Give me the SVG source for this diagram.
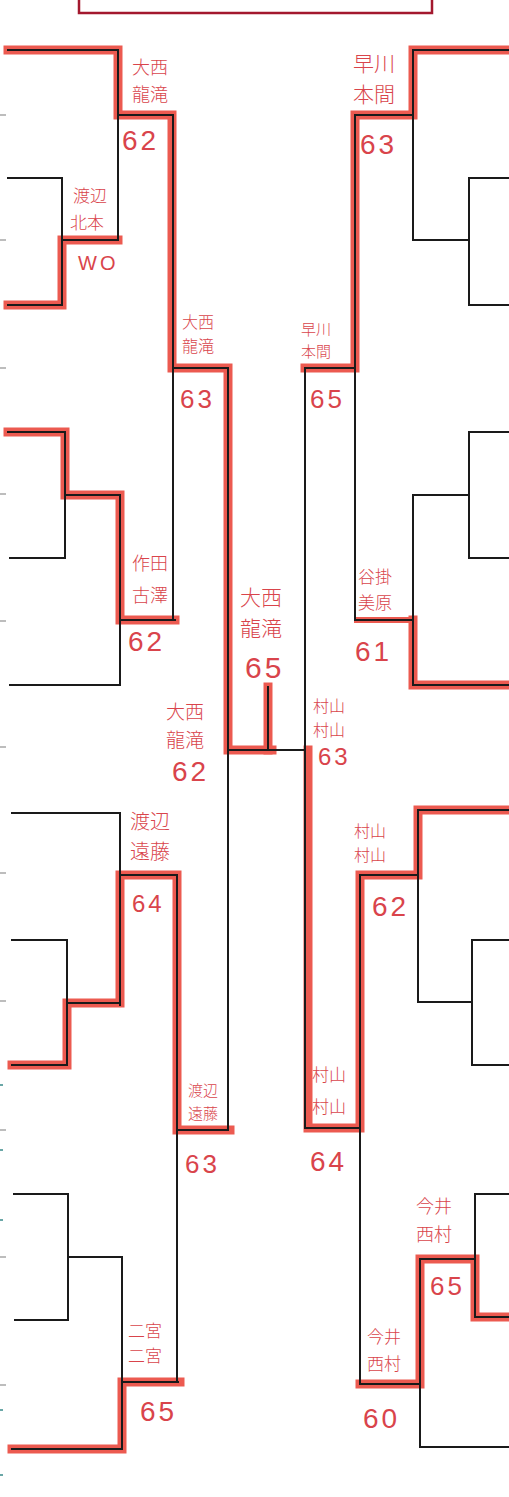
<svg xmlns="http://www.w3.org/2000/svg" width="509" height="1497" viewBox="0 0 509 1497">
<style>
.hl{fill:none;stroke:#ec5a50;stroke-width:9;stroke-linejoin:miter;stroke-linecap:square}
.hlt{fill:none;stroke:#ec5a50;stroke-width:6;stroke-linecap:square}
.ln{fill:none;stroke:#1a1a1a;stroke-width:2;stroke-linecap:square}
.tk{fill:none;stroke:#a8a8a8;stroke-width:1.5}
.tg{fill:none;stroke:#3a8a8a;stroke-width:1.5}
.nm{font-family:"Noto Sans CJK JP","Noto Sans CJK SC",sans-serif;fill:#d9444b;font-weight:300}
.sc{font-family:"Liberation Sans","DejaVu Sans",sans-serif;fill:#d9444b;letter-spacing:3px}
</style>
<rect x="79" y="-20" width="353" height="33" fill="none" stroke="#a3182e" stroke-width="2.5"/>
<g id="ticks">
<path class="tk" d="M0,115H6M0,240H6M0,368H6M0,494H6M0,621H6M0,747H6M0,873H6M0,1001H6M0,1130H6M0,1257H6M0,1385H6"/>
<path class="tg" d="M0,1085H3M0,1150H3M0,1220H3M0,1410H3M0,1475H3"/>
</g>
<g id="connectors">
<g id="highlights">
<path class="hl" d="M8,50H118V115H172V368H228V750H272"/>
<path class="hl" d="M268,750V687"/>
<path class="hl" d="M8,305H62V240H118"/>
<path class="hl" d="M8,432H65V495H120V620H175"/>
<path class="hl" d="M12,1065H67V1003H120V875H177V1130H230"/>
<path class="hl" d="M12,1449H122V1382H180"/>
<path class="hl" d="M509,50H413V115H355V368H305"/>
<path class="hlt" d="M357,620H413"/>
<path class="hl" d="M413,620V685H509"/>
<path class="hl" d="M509,810H418V875H360V1128H308V750"/>
<path class="hl" d="M509,1317H475V1259H420V1384H360"/>
</g>
<g id="lines">
<path class="ln" d="M8,50H118V240M118,115H172M8,178H62V305H8M62,240H118M173,115V620M173,368H228M8,432H65V558H10M65,495H120V685H10M120,620H175M228,368V1130M228,750H305M268,687V750M12,813H120V1005M120,875H177M12,940H67V1065H12M67,1003H120M177,875V1382M177,1130H228M14,1194H68V1320H15M68,1257H122V1449H12M122,1382H178"/>
<path class="ln" d="M509,50H413V240H469M355,115H413M509,178H469V305H509M355,115V620H413M305,368H355M413,495V685H509M413,495H469M509,432H469V558H509M305,368V1128H360M360,875V1384H420M360,875H418M509,810H418V1002H472M509,940H472V1065H509M420,1259V1447H509M420,1259H475M509,1194H475V1317H509"/>
</g>
</g>
<g id="m-l1"><text class="nm" font-size="18" x="132" y="74">大西</text><text class="nm" font-size="18" x="132" y="101">龍滝</text><text class="sc" font-size="28" x="122" y="150">62</text></g>
<g id="m-l2"><text class="nm" font-size="17" x="73" y="202">渡辺</text><text class="nm" font-size="17" x="70" y="229">北本</text><text class="sc" font-size="20" x="78" y="270">WO</text></g>
<g id="m-l3"><text class="nm" font-size="16" x="182" y="328">大西</text><text class="nm" font-size="16" x="182" y="352">龍滝</text><text class="sc" font-size="26" x="180" y="408">63</text></g>
<g id="m-l4"><text class="nm" font-size="18" x="132" y="570">作田</text><text class="nm" font-size="18" x="132" y="602">古澤</text><text class="sc" font-size="28" x="128" y="651">62</text></g>
<g id="m-l5"><text class="nm" font-size="20" x="130" y="829">渡辺</text><text class="nm" font-size="20" x="130" y="859">遠藤</text><text class="sc" font-size="24" x="132" y="912">64</text></g>
<g id="m-l6"><text class="nm" font-size="15" x="188" y="1096">渡辺</text><text class="nm" font-size="15" x="188" y="1119">遠藤</text><text class="sc" font-size="26" x="185" y="1173">63</text></g>
<g id="m-l7"><text class="nm" font-size="17" x="128" y="1337">二宮</text><text class="nm" font-size="17" x="128" y="1362">二宮</text><text class="sc" font-size="28" x="140" y="1421">65</text></g>
<g id="m-semi-l"><text class="nm" font-size="19" x="166" y="719">大西</text><text class="nm" font-size="19" x="166" y="747">龍滝</text><text class="sc" font-size="28" x="172" y="781">62</text></g>
<g id="m-final"><text class="nm" font-size="21" x="240" y="605">大西</text><text class="nm" font-size="21" x="240" y="636">龍滝</text><text class="sc" font-size="30" x="245" y="678">65</text></g>
<g id="m-semi-r"><text class="nm" font-size="16" x="313" y="712">村山</text><text class="nm" font-size="16" x="313" y="736">村山</text><text class="sc" font-size="24" x="318" y="765">63</text></g>
<g id="m-r1"><text class="nm" font-size="21" x="353" y="71">早川</text><text class="nm" font-size="21" x="353" y="102">本間</text><text class="sc" font-size="28" x="360" y="154">63</text></g>
<g id="m-r2"><text class="nm" font-size="15" x="301" y="335">早川</text><text class="nm" font-size="15" x="301" y="357">本間</text><text class="sc" font-size="26" x="310" y="408">65</text></g>
<g id="m-r3"><text class="nm" font-size="17" x="358" y="583">谷掛</text><text class="nm" font-size="17" x="358" y="609">美原</text><text class="sc" font-size="28" x="355" y="661">61</text></g>
<g id="m-r4"><text class="nm" font-size="16" x="354" y="837">村山</text><text class="nm" font-size="16" x="354" y="861">村山</text><text class="sc" font-size="28" x="372" y="916">62</text></g>
<g id="m-r5"><text class="nm" font-size="17" x="312" y="1081">村山</text><text class="nm" font-size="17" x="312" y="1113">村山</text><text class="sc" font-size="28" x="310" y="1171">64</text></g>
<g id="m-r6"><text class="nm" font-size="18" x="416" y="1213">今井</text><text class="nm" font-size="18" x="416" y="1241">西村</text><text class="sc" font-size="26" x="430" y="1295">65</text></g>
<g id="m-r7"><text class="nm" font-size="17" x="367" y="1343">今井</text><text class="nm" font-size="17" x="367" y="1370">西村</text><text class="sc" font-size="28" x="363" y="1428">60</text></g>
</svg>
